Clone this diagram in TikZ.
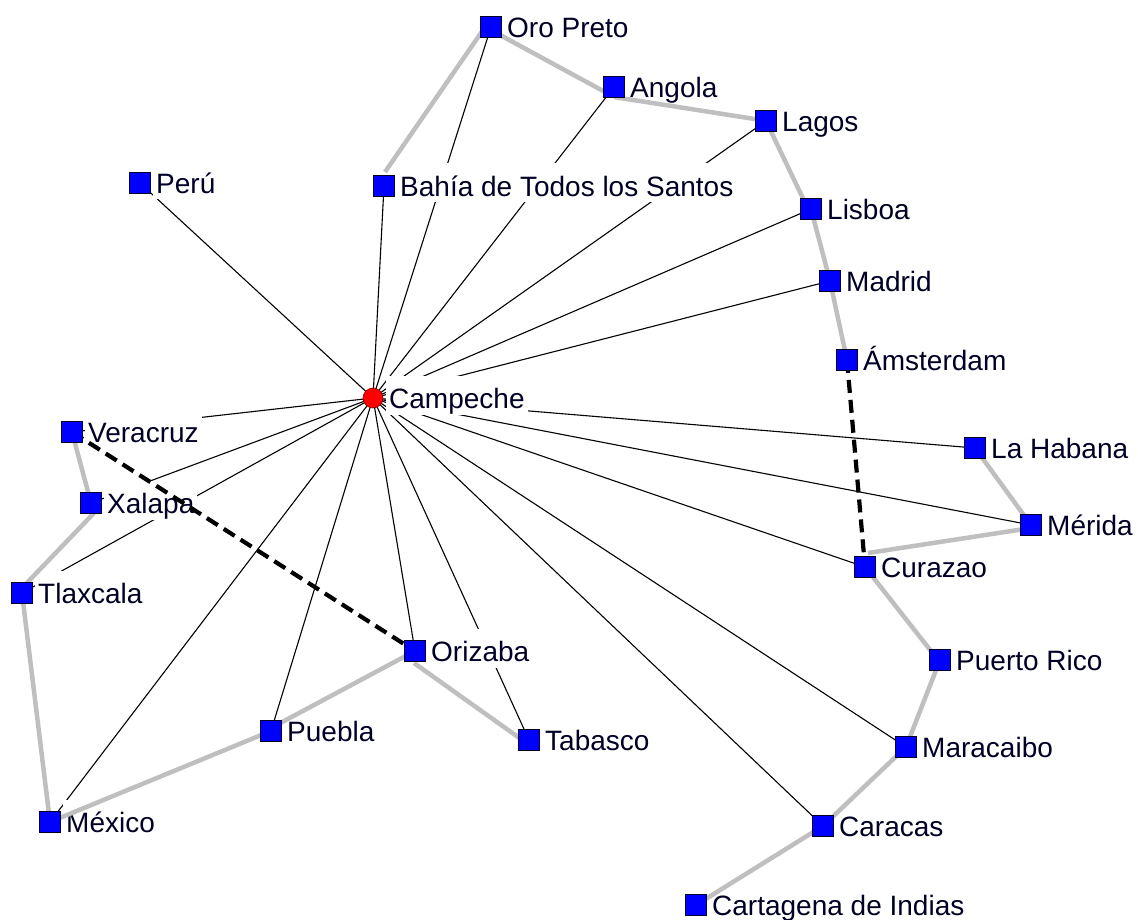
\documentclass[tikz,border=0pt]{standalone}
\usepackage{fontspec}
\setmainfont{Liberation Sans}
\pgfdeclarelayer{ties}
\pgfdeclarelayer{labels}
\pgfdeclarelayer{routes}
\pgfsetlayers{ties,labels,routes,main}
% a city: square marker plus its label on a white box
\newcommand\city[4]{%
  \node[citybox] (#1) at (#2,#3) {};
  \begin{pgfonlayer}{labels}
    \node[lbl] (#1-l) at ({#2+13},{#3+10.5}) {#4};
  \end{pgfonlayer}}
% a route whose ends sit a little off the marker centres
\newcommand\route[6]{%
  \draw[route] ([shift={(#2,#3)}]#1.center) -- ([shift={(#5,#6)}]#4.center);}
\begin{document}
\begin{tikzpicture}[x=1pt,y=-1pt,
  citybox/.style={draw=black!85!blue, fill=blue, minimum size=21pt, inner sep=0pt, line width=0.8pt},
  hub/.style={circle, draw=red!55!black, fill=red, minimum size=20pt, inner sep=0pt, line width=0.6pt},
  lbl/.style={fill=white, anchor=base west, inner xsep=3pt, inner ysep=0pt,
    text height=33pt, text depth=6pt, text=black!85!blue, font=\fontsize{28}{30}\selectfont},
  tie/.style={line width=1.1pt, black},
  route/.style={line width=4.5pt, gray!50},
  link/.style={line width=4.2pt, black, dash pattern=on 13pt off 7pt}]
\useasboundingbox (0,0) rectangle (1138,920);

% hub
\node[hub] (camp) at (373,398) {};
\begin{pgfonlayer}{labels}
  \node[lbl] (camp-l) at (386,408.5) {Campeche};
\end{pgfonlayer}

% cities
\city{oro}{491}{27}{Oro Preto}
\city{ang}{614}{87}{Angola}
\city{lag}{766}{121}{Lagos}
\city{peru}{140}{183}{Perú}
\city{bah}{384}{186}{Bahía de Todos los Santos}
\city{lis}{811}{209}{Lisboa}
\city{mad}{830}{281}{Madrid}
\city{ams}{847}{360}{Ámsterdam}
\city{ver}{72}{432}{Veracruz}
\city{hab}{975}{448}{La Habana}
\city{xal}{91}{503}{Xalapa}
\city{mer}{1031}{525}{Mérida}
\city{cur}{865}{567}{Curazao}
\city{tla}{22}{593}{Tlaxcala}
\city{ori}{415}{651}{Orizaba}
\city{pr}{940}{660}{Puerto Rico}
\city{pue}{271}{731}{Puebla}
\city{tab}{529}{740}{Tabasco}
\city{mar}{906}{747}{Maracaibo}
\city{mex}{50}{822}{México}
\city{car}{823}{826}{Caracas}
\city{cta}{696}{905}{Cartagena de Indias}

% ties from Campeche, under the labels
\begin{pgfonlayer}{ties}
  \foreach \b in {peru, bah, oro, ang, lag, lis, mad, hab, mer, cur, mar, car,
                  tab, ori, pue, mex, tla, xal, ver}
    \draw[tie] (camp.center) -- (\b.center);
\end{pgfonlayer}

% routes between neighbouring cities and dashed links, over the labels
\begin{pgfonlayer}{routes}
  \route{oro}{-8}{3}{bah}{1}{-14}
  \route{oro}{9}{8}{ang}{-9}{5}
  \route{ang}{0}{10}{lag}{-5}{-1}
  \route{lag}{0}{0}{lis}{-3}{0}
  \route{lis}{0}{0}{mad}{0}{0}
  \route{mad}{0}{0}{ams}{0}{0}
  \route{hab}{0}{0}{mer}{0}{0}
  \route{mer}{0}{3}{cur}{3}{-14}
  \route{cur}{0}{0}{pr}{-2}{0}
  \route{pr}{0}{0}{mar}{0}{0}
  \route{mar}{0}{0}{car}{0}{0}
  \route{car}{0}{0}{cta}{0}{0}
  \route{ver}{0}{0}{xal}{0}{0}
  \route{xal}{3}{10}{tla}{0}{-5}
  \route{tla}{0}{0}{mex}{0}{0}
  \route{mex}{0}{0}{pue}{0}{0}
  \route{pue}{0}{-3}{ori}{0}{0}
  \route{ori}{-1}{12}{tab}{-4}{2}
  \draw[link] (ver.center) -- (ori.center);
  \draw[link] (ams.center) -- (cur.center);
\end{pgfonlayer}
\end{tikzpicture}
\end{document}
